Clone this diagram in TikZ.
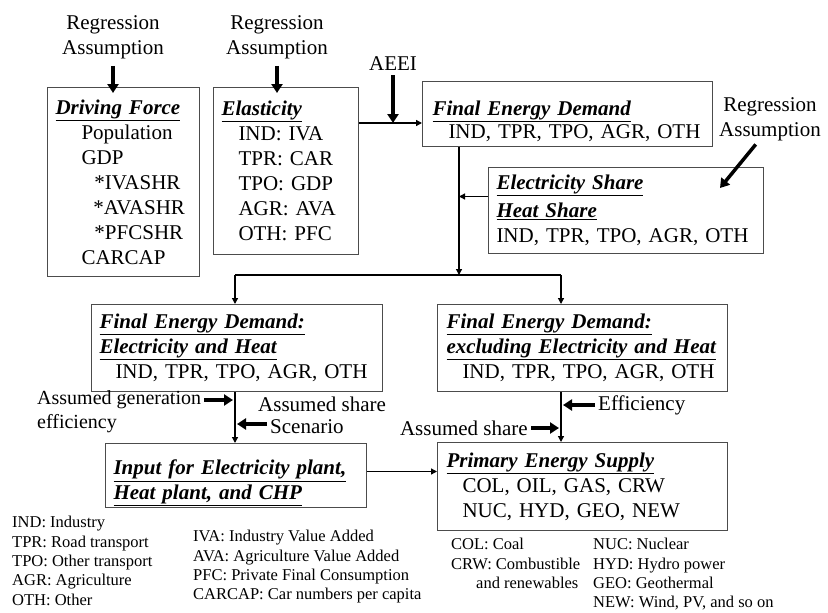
\documentclass[tikz,border=0pt]{standalone}
\usepackage{fontspec}
\setmainfont{Liberation Serif}
\usetikzlibrary{arrows.meta}
\newcommand{\boxtitle}[1]{\underline{\textbf{\textit{#1}}}}

\begin{document}
\begin{tikzpicture}[x=1pt,y=-1pt,
    every node/.style={font=\fontsize{21}{25}\selectfont},
    box/.style={draw=black!70, line width=1pt, anchor=north west, align=left,
      inner xsep=8pt, inner ysep=0pt},
    flow/.style={line width=1.3pt, -{Triangle[length=6pt,width=6pt]}},
    push/.style={line width=3.5pt, -{Triangle[length=9pt,width=11pt]}},
    note/.style={font=\fontsize{16.5}{19.4}\selectfont, anchor=north west,
      align=left, inner sep=0pt}]
  \useasboundingbox (0,0) rectangle (828,613);
  % Draw the upper boxes
  \node[box, text width=136pt, minimum height=189pt] (drive) at (47,87)
    {\boxtitle{Driving Force}\\
     \hspace*{26pt}Population\\
     \hspace*{26pt}GDP\\
     \hspace*{39pt}*IVASHR\\
     \hspace*{38pt}*AVASHR\\
     \hspace*{39pt}*PFCSHR\\
     \hspace*{26pt}CARCAP};
  \node[box, text width=129pt, minimum height=167pt] (elast) at (213,87)
    {\boxtitle{Elasticity}\\
     \hspace*{17pt}IND: IVA\\
     \hspace*{17pt}TPR: CAR\\
     \hspace*{17pt}TPO: GDP\\
     \hspace*{17pt}AGR: AVA\\
     \hspace*{17pt}OTH: PFC};
  \node[box, text width=274pt, minimum height=65pt] (fed) at (422,81)
    {\rule{0pt}{29pt}\hspace*{2pt}\boxtitle{Final Energy Demand}\\[-2pt]
     \hspace*{18pt}IND, TPR, TPO, AGR, OTH};
  \node[box, text width=259pt, minimum height=86pt] (share) at (488,167)
    {\boxtitle{Electricity Share}\\[3pt]
     \boxtitle{Heat Share}\\
     IND, TPR, TPO, AGR, OTH};
  % Draw the middle boxes
  \node[box, text width=275pt, minimum height=87pt] (fedel) at (91,304)
    {\boxtitle{Final Energy Demand:}\\
     \boxtitle{Electricity and Heat}\\
     \hspace*{16pt}IND, TPR, TPO, AGR, OTH};
  \node[box, text width=274pt, minimum height=87pt] (fedex) at (437,304)
    {\hspace*{1pt}\boxtitle{Final Energy Demand:}\\
     \hspace*{1pt}\boxtitle{excluding Electricity and Heat}\\
     \hspace*{17pt}IND, TPR, TPO, AGR, OTH};
  % Draw the lower boxes
  \node[box, text width=245pt, minimum height=64pt] (input) at (105,443)
    {\rule{0pt}{30pt}\boxtitle{Input for Electricity plant,}\\
     \boxtitle{Heat plant, and CHP}};
  \node[box, text width=274pt, minimum height=88pt] (primary) at (437,442)
    {\hspace*{1pt}\boxtitle{Primary Energy Supply}\\
     \hspace*{17pt}COL, OIL, GAS, CRW\\
     \hspace*{17pt}NUC, HYD, GEO, NEW};
  % Draw the assumptions
  \node[align=center, inner sep=2pt] (reg1) at (113,37) {Regression\\Assumption};
  \node[align=center, inner sep=2pt] (reg2) at (277,37) {Regression\\Assumption};
  \node[inner sep=2pt] (aeei) at (393,64) {AEEI};
  \node[align=center, inner sep=2pt] (reg3) at (770,119) {Regression\\Assumption};
  \node[anchor=west, inner sep=0pt, font=\fontsize{20}{24}\selectfont] (gen) at (37,400) {Assumed generation};
  \node[anchor=west, inner sep=0pt, font=\fontsize{20}{24}\selectfont] (geneff) at (37,424) {efficiency};
  \node[anchor=west, inner sep=0pt] (shareL) at (258,404) {Assumed share};
  \node[anchor=west, inner sep=0pt] (scen) at (270,427) {Scenario};
  \node[anchor=west, inner sep=0pt] (eff) at (598,405) {Efficiency};
  \node[anchor=east, inner sep=0pt] (shareR) at (528,428) {Assumed share};
  % Branch points
  \coordinate (split) at (459,275);
  \coordinate (lsplit) at (235,275);
  \coordinate (rsplit) at (561,275);
  \coordinate (ein) at (422,123);
  \coordinate (reg3end) at (720,188);
  % Draw the flows
  \draw[flow] (elast.east |- ein) -- (ein);
  \draw[flow] (split |- fed.south) -- (split);
  \draw[flow] ([yshift=14pt]share.west) -- ([yshift=14pt]share.west -| split);
  \draw[line width=1.3pt] (lsplit) -- (rsplit);
  \draw[flow] (lsplit) -- (lsplit |- fedel.north);
  \draw[flow] (rsplit) -- (rsplit |- fedex.north);
  \draw[flow] (lsplit |- fedel.south) -- (lsplit |- input.north);
  \draw[flow] (rsplit |- fedex.south) -- (rsplit |- primary.north);
  \draw[flow] ([yshift=4pt]input.east) -- ([yshift=4pt]input.east -| primary.west);
  % Draw the assumption arrows
  \draw[push, shorten <=5pt, shorten >=-6pt] (reg1.south) -- (reg1.south |- drive.north);
  \draw[push, shorten <=5pt, shorten >=-6pt] (reg2.south) -- (reg2.south |- elast.north);
  \draw[push, shorten <=2pt] (aeei.south) -- (aeei.south |- ein);
  \draw[push, shorten <=2pt] ([xshift=-13pt]reg3.south) -- (reg3end);
  \draw[push, shorten <=3pt, shorten >=2pt] (gen.east) -- (gen.east -| lsplit);
  \draw[push, shorten <=3pt, shorten >=2pt] ([yshift=3pt]scen.west) -- ([yshift=3pt]scen.west -| lsplit);
  \draw[push, shorten <=3pt, shorten >=2pt] (eff.west) -- (eff.west -| rsplit);
  \draw[push, shorten <=3pt, shorten >=2pt] (shareR.east) -- (shareR.east -| rsplit);
  % Draw the legends
  \node[note] (legsec) at (12,516)
    {IND: Industry\\TPR: Road transport\\TPO: Other transport\\AGR: Agriculture\\OTH: Other};
  \node[note] (legvar) at (193,530)
    {IVA: Industry Value Added\\AVA: Agriculture Value Added\\PFC: Private Final Consumption\\CARCAP: Car numbers per capita};
  \node[note] (legfuel) at (451,538)
    {COL: Coal\\CRW: Combustible\\\hspace*{25pt}and renewables};
  \node[note] (legfuelb) at (593,538)
    {NUC: Nuclear\\HYD: Hydro power\\GEO: Geothermal\\NEW: Wind, PV, and so on};
\end{tikzpicture}
\end{document}
